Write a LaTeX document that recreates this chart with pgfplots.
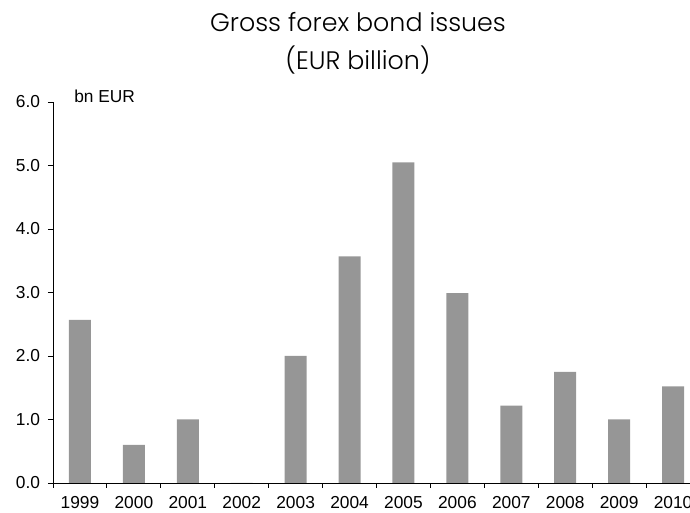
\documentclass[border=0pt]{standalone}
\usepackage{pgfplots}
\pgfplotsset{compat=1.18}
\usepackage{fontspec}
\setmainfont{Liberation Sans}
\IfFontExistsTF{Poppins Light}{\newfontfamily\titlefont{Poppins Light}}{\newfontfamily\titlefont{Poppins}}
\definecolor{barg}{RGB}{150,150,150}
\begin{document}
\begin{tikzpicture}
\begin{axis}[
  at={(0,0)}, anchor=south west,
  scale only axis,
  width=485.25pt, height=285.75pt,
  xmin=-0.5, xmax=11.5, ymin=0, ymax=6,
  axis x line*=bottom, axis y line*=left,
  axis line style={-, black, line width=0.7pt},
  ybar, bar width=16.5pt,
  xtick={0,...,11},
  xticklabels={1999,2000,2001,2002,2003,2004,2005,2006,2007,2008,2009,2010},
  major x tick style={draw=none},
  minor x tick style={draw=black, line width=0.7pt},
  minor xtick={-0.5,0.5,...,10.5},
  minor tick length=3.75pt,
  major tick length=3.75pt,
  tick align=outside,
  tick style={black, line width=0.7pt},
  ytick={0,1,...,6},
  yticklabel style={/pgf/number format/.cd, fixed, fixed zerofill, precision=1, /tikz/.cd, xshift=-2.4pt},
  /pgf/number format/assume math mode=true,
  ticklabel style={font=\fontsize{13}{15}\selectfont},
  xticklabel style={anchor=base, yshift=-15.75pt},
  clip=false,
]
\addplot[fill=barg, draw=none] coordinates {
(0,2.57) (1,0.60) (2,1.00) (3,0) (4,2.00) (5,3.57) (6,5.05) (7,2.99) (8,1.22) (9,1.75) (10,1.00) (11,1.52)
};
\end{axis}
\node[anchor=base west, inner sep=0pt, font=\fontsize{13}{15}\selectfont] at (15.75pt,285pt) {bn EUR};
\node[anchor=base, inner sep=0pt, font=\titlefont\fontsize{19}{23}\selectfont] at (228.75pt,338.25pt) {Gross forex bond issues};
\node[anchor=base, inner sep=0pt, font=\titlefont\fontsize{19}{23}\selectfont] at (228.75pt,309.75pt) {(EUR billion)};
\pgfresetboundingbox
\path[use as bounding box] (-39.75pt,-22.5pt) rectangle (477.75pt,362.25pt);
\end{tikzpicture}
\end{document}
